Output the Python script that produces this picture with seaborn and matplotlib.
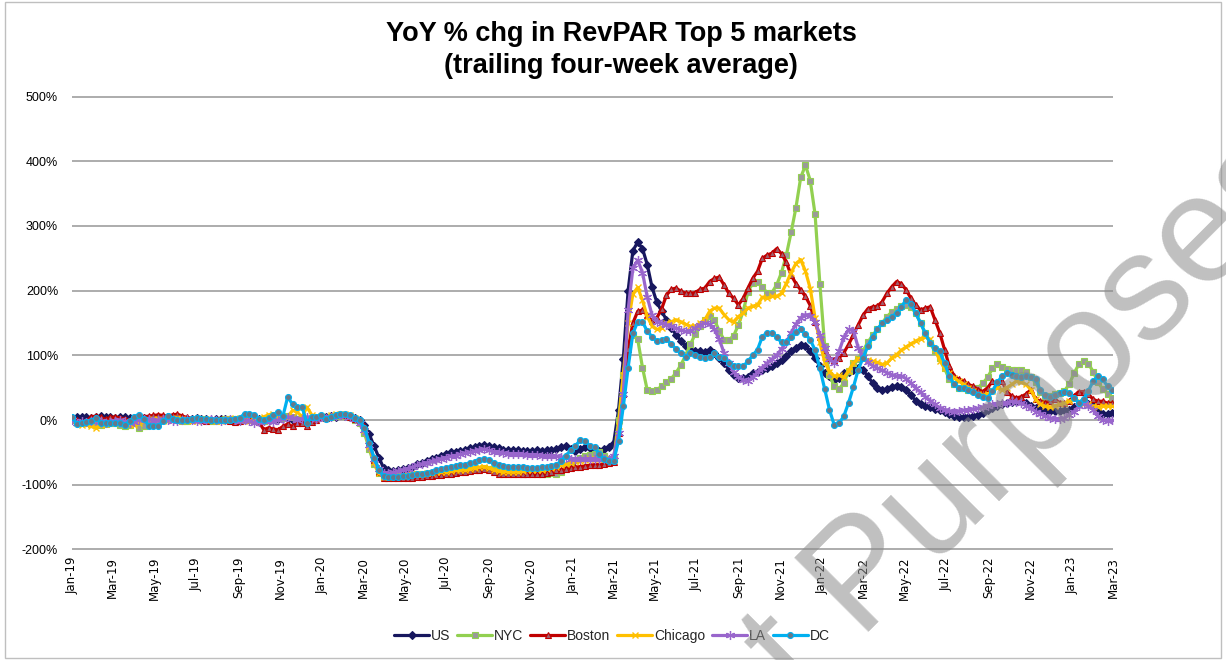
import numpy as np
import pandas as pd
import matplotlib
matplotlib.use("Agg")
import matplotlib.pyplot as plt
import matplotlib.dates as mdates
from matplotlib.lines import Line2D
from matplotlib.ticker import FuncFormatter, MultipleLocator
import seaborn as sns

# ---------------- data (weekly, trailing 4-week avg, YoY % chg) ----------------
weeks = pd.date_range("2019-01-01", periods=218, freq="7D")

us = [
    3, 5, 4, 5, 3, 4, 6, 5, 4, 3, 4, 5, 3, 2, 4, 3, 2, 1, 2, 3, 4, 5, 3, 2, 1, 2,
    3, 2, 1, 0, 1, 2, 1, 0, -1, 0, 1, 2, 3, 2, 0, 1, 2, 1, 3, 2, 0, -1, 1, 2, 3, 2,
    5, 4, 6, 5, 7, 6, 5, 3, 0,
    -8, -22, -40, -58, -74,
    -78, -79, -78, -76, -74, -72, -68, -66, -63, -60,
    -58, -55, -52, -50, -49, -48, -47, -44, -42, -40,
    -38, -40, -42, -44, -46, -47, -47, -47, -48, -48,
    -48, -47, -48, -47, -47, -45, -42, -40, -45, -48,
    -45, -42, -43, -47, -48, -45, -42, -35,
    15, 95, 200, 262, 275, 265, 240, 205, 182, 168,
    155, 142, 132, 122, 114, 109, 107, 107, 105, 109,
    104, 96, 88, 78, 70, 65, 65, 67, 73, 75,
    78, 80, 83, 88, 93,
    99, 106, 112, 116, 114, 106, 96, 83, 73, 68,
    62, 65, 73, 75, 78, 80, 77, 68, 57, 50,
    46, 48, 51, 53, 51, 46, 38, 30, 25, 22, 20, 17, 15, 12, 9, 6, 5,
    4, 5, 6, 8, 11, 15, 19, 22, 24, 26,
    28, 29, 29, 27, 22, 18, 16, 14, 14, 14,
    14, 15, 16, 20, 24, 29, 25, 21, 14, 10,
    9, 11,
]

nyc = [
    0, -3, -5, -4, -6, -5, -8, -6, -4, -5, -8, -10, -8, -5, -12, -10, -6, -4, -2, 0, 1, 2, 0, -2, -1, 0,
    1, 2, 0, -1, -2, 0, 1, 2, 1, 0, 2, 4, 3, 1, -1, 0, 2, 4, 3, 6, 4, 2, 0, -2, 1, 3,
    4, 3, 5, 6, 7, 6, 4, 0, -5,
    -20, -45, -68, -82, -88,
    -88, -88, -87, -86, -86, -85, -84, -84, -83, -82,
    -81, -81, -80, -79, -79, -78, -77, -77, -76, -75,
    -74, -76, -78, -80, -81, -82, -82, -82, -83, -82,
    -82, -82, -83, -84, -82, -83, -80, -74, -68, -62,
    -58, -56, -54, -53, -50, -55, -60, -61,
    0, 70, 118, 132, 125, 81, 46, 45, 47, 52,
    58, 64, 73, 85, 100, 117, 133, 145, 155, 161,
    155, 138, 124, 124, 130, 147, 168, 198, 212, 214,
    205, 197, 197, 209, 228,
    255, 290, 328, 375, 394, 370, 318, 210, 115, 70,
    52, 48, 57, 76, 88, 95, 107, 120, 131, 140,
    150, 160, 167, 172, 176, 178, 175, 165, 150, 134,
    119, 106, 96, 80, 63, 55, 50,
    49, 47, 47, 50, 57, 66, 80, 86, 82, 79,
    77, 78, 78, 74, 66, 58, 44, 35, 37, 40,
    41, 45, 55, 72, 86, 91, 87, 75, 58, 48,
    40, 34,
]

boston = [
    2, 0, -3, -2, 5, 6, 4, 1, 4, 5, 3, 2, 0, 1, 3, 5, 6, 7, 8, 7, 6, 8, 9, 6, 4, 2,
    1, 0, -1, 0, 2, 1, 0, -2, -3, -1, 0, 2, 1, -3, -15, -12, -14, -15, -10, -6, -10, -5, -4, -10, -3, 0,
    5, 3, 6, 8, 9, 7, 5, 2, -2,
    -10, -35, -62, -80, -89,
    -90, -90, -90, -89, -89, -89, -88, -88, -87, -86,
    -85, -85, -84, -83, -82, -81, -80, -79, -78, -77,
    -76, -78, -81, -83, -84, -84, -83, -84, -84, -83,
    -84, -84, -83, -82, -80, -78, -77, -75, -74, -73,
    -72, -71, -70, -69, -69, -68, -66, -65,
    -20, 40, 110, 150, 168, 170, 162, 153, 158, 172,
    193, 202, 204, 199, 196, 196, 197, 202, 204, 214,
    219, 221, 209, 196, 188, 178, 188, 204, 219, 230,
    250, 255, 258, 265, 257,
    244, 224, 211, 201, 191, 177, 152, 128, 109, 96,
    93, 96, 104, 117, 132, 147, 162, 172, 175, 176,
    183, 196, 206, 214, 211, 201, 188, 178, 170, 173,
    175, 155, 135, 109, 83, 68, 63,
    60, 55, 52, 47, 44, 50, 60, 55, 60, 44,
    37, 34, 36, 40, 47, 32, 29, 27, 29, 32,
    27, 26, 29, 37, 44, 44, 40, 32, 29, 29,
    26, 26,
]

chicago = [
    0, -5, -8, -6, -10, -12, -8, -6, -4, -3, -5, -3, -6, -8, -4, -2, 0, 2, 1, -1, 0, 2, 3, 1, 0, -2,
    -1, 1, 2, 0, -2, -1, 0, 2, 3, 1, 0, -2, 0, 2, 5, 8, 10, 4, 3, 5, 15, 12, 5, 20, 8, 5,
    6, 4, 7, 9, 10, 9, 7, 3, -3,
    -15, -40, -65, -82, -88,
    -88, -87, -87, -86, -85, -84, -84, -83, -82, -82,
    -81, -80, -80, -79, -78, -78, -77, -76, -74, -73,
    -72, -74, -77, -79, -80, -80, -81, -80, -79, -78,
    -78, -77, -77, -76, -74, -72, -70, -68, -66, -64,
    -63, -62, -61, -61, -60, -61, -62, -62,
    -10, 70, 150, 195, 205, 185, 160, 145, 140, 142,
    150, 152, 155, 152, 148, 145, 145, 150, 155, 168,
    173, 173, 163, 155, 152, 160, 165, 173, 176, 178,
    190, 188, 191, 191, 196,
    211, 228, 242, 248, 230, 203, 158, 120, 90, 75,
    68, 69, 66, 76, 88, 95, 95, 93, 91, 89,
    86, 88, 96, 101, 108, 113, 118, 122, 126, 129,
    125, 110, 92, 80, 72, 65, 60,
    55, 50, 45, 40, 38, 40, 45, 50, 47, 50,
    55, 60, 58, 55, 47, 32, 24, 21, 20, 22,
    24, 26, 29, 32, 29, 26, 24, 22, 20, 22,
    21, 21,
]

la = [
    0, -4, -2, -3, -1, 0, -2, -4, -3, -1, 0, -2, -5, -3, 0, 2, 1, -1, 0, 1, 0, -2, -1, 0, 1, 0,
    -1, -2, 0, 1, 0, -1, 0, 1, 0, -1, 0, -2, -4, -3, -2, -1, -3, 0, 2, 5, 3, 0, 2, 4, 3, 2,
    4, 3, 5, 6, 7, 6, 5, 2, -5,
    -15, -38, -60, -75, -82,
    -82, -81, -79, -77, -75, -73, -70, -68, -66, -64,
    -62, -60, -58, -56, -55, -53, -51, -50, -48, -46,
    -45, -47, -49, -50, -51, -52, -52, -53, -53, -54,
    -54, -54, -55, -55, -55, -56, -57, -58, -60, -60,
    -61, -61, -60, -60, -60, -61, -60, -55,
    -20, 40, 170, 235, 247, 228, 190, 162, 152, 150,
    147, 145, 142, 139, 137, 137, 142, 147, 150, 148,
    140, 125, 104, 88, 75, 66, 62, 60, 66, 74,
    81, 88, 94, 100, 110,
    120, 135, 148, 158, 163, 161, 152, 132, 111, 95,
    88, 106, 128, 140, 138, 112, 97, 89, 84, 80,
    77, 73, 70, 68, 68, 64, 57, 49, 43, 36,
    30, 24, 19, 16, 14, 13, 14,
    15, 16, 17, 18, 20, 22, 24, 25, 26, 27,
    29, 28, 26, 22, 19, 13, 10, 6, 3, 2,
    2, 3, 8, 13, 21, 26, 22, 16, 6, 0,
    -2, 0,
]

dc = [
    5, -6, -4, -3, -2, 3, -4, -4, -4, -4, -5, -7, -2, 5, 8, 2, -9, -10, -9, -2, 6, 2, 0, 0, 0, 1,
    3, 2, 1, 0, 0, 0, 0, 0, 1, 3, 10, 10, 8, 2, 0, 3, 8, 12, 6, 36, 24, 20, 20, -5, 5, 5,
    7, 2, 5, 8, 10, 10, 7, 3, 0,
    -12, -35, -58, -77, -87,
    -88, -88, -88, -87, -86, -85, -84, -83, -82, -80,
    -78, -76, -74, -72, -71, -70, -69, -67, -65, -62,
    -60, -62, -67, -70, -71, -72, -72, -73, -73, -74,
    -74, -74, -73, -72, -71, -69, -64, -55, -47, -40,
    -31, -32, -40, -42, -53, -61, -63, -63,
    -32, 21, 81, 134, 152, 152, 137, 129, 122, 124,
    126, 117, 110, 103, 98, 104, 101, 98, 96, 98,
    103, 98, 96, 88, 83, 83, 83, 91, 100, 109,
    129, 135, 134, 128, 120,
    121, 129, 136, 140, 133, 124, 108, 80, 48, 16,
    -8, -5, 6, 27, 51, 78, 96, 114, 129, 140,
    150, 155, 160, 165, 175, 186, 180, 165, 150, 134,
    119, 111, 106, 88, 68, 55, 50,
    50, 47, 44, 39, 36, 34, 45, 58, 68, 72,
    70, 68, 67, 68, 67, 63, 46, 38, 36, 38,
    41, 43, 41, 34, 27, 32, 45, 60, 68, 63,
    52, 46,
]

series_names = ["US", "NYC", "Boston", "Chicago", "LA", "DC"]
series_values = [us, nyc, boston, chicago, la, dc]
for n, v in zip(series_names, series_values):
    assert len(v) == len(weeks), (n, len(v))

title_lines = ["YoY % chg in RevPAR Top 5 markets", "(trailing four-week average)"]
watermark = "t Purposes"

# ---------------- styles ----------------
styles = {
    "US":      dict(color="#17175E", marker="D", markersize=4.5, markerfacecolor="#17175E",
                    markeredgecolor="#17175E", markeredgewidth=0.8, linewidth=2.3),
    "NYC":     dict(color="#92D050", marker="s", markersize=3.8, markerfacecolor="#9A9A9A",
                    markeredgecolor="#92D050", markeredgewidth=0.8, linewidth=2.3),
    "Boston":  dict(color="#C00000", marker="^", markersize=4.2, markerfacecolor="#A06070",
                    markeredgecolor="#C00000", markeredgewidth=0.8, linewidth=2.3),
    "Chicago": dict(color="#FFC000", marker="x", markersize=4.5, markerfacecolor="#FFC000",
                    markeredgecolor="#FFC000", markeredgewidth=1.0, linewidth=2.3),
    "LA":      dict(color="#9966CC", marker=(6, 2, 0), markersize=6.5, markerfacecolor="#9966CC",
                    markeredgecolor="#9966CC", markeredgewidth=0.9, linewidth=2.3),
    "DC":      dict(color="#00B0F0", marker="o", markersize=4.3, markerfacecolor="#687888",
                    markeredgecolor="#00B0F0", markeredgewidth=0.8, linewidth=2.3),
}

sns.set_theme(style="white")
plt.rcParams["font.family"] = ["Liberation Sans", "DejaVu Sans"]

W, H = 1226, 660
fig = plt.figure(figsize=(W / 100, H / 100), dpi=100)
ax = fig.add_axes([72 / W, 1 - 550 / H, (1113 - 72) / W, (550 - 96) / H])

for name, vals in zip(series_names, series_values):
    sns.lineplot(x=weeks, y=vals, ax=ax, errorbar=None, label=name, **styles[name])

if ax.get_legend() is not None:
    ax.get_legend().remove()

ax.set_ylim(-201, 501)
ax.set_xlim(pd.Timestamp("2019-01-01"), pd.Timestamp("2023-03-01"))
ax.yaxis.set_major_locator(MultipleLocator(100))
ax.yaxis.set_major_formatter(FuncFormatter(lambda v, p: f"{int(round(v))}%"))
ax.xaxis.set_major_locator(mdates.MonthLocator(bymonth=[1, 3, 5, 7, 9, 11]))
ax.xaxis.set_major_formatter(mdates.DateFormatter("%b-%y"))
ax.grid(axis="y", color="#A6A6A6", linewidth=1.3)
ax.grid(axis="x", visible=False)
ax.set_axisbelow(True)
for s in ax.spines.values():
    s.set_visible(False)
ax.set_xlabel("")
ax.set_ylabel("")
ax.tick_params(axis="y", length=0, pad=10, labelsize=9, labelcolor="#000000")
ax.tick_params(axis="x", length=0, pad=5, labelsize=8.5, labelrotation=90, labelcolor="#000000")
for lab in ax.get_xticklabels():
    lab.set_family(["DejaVu Sans"])

fig.text(621 / W, 1 - 34 / H, title_lines[0], ha="center", va="center",
         fontsize=19.5, fontweight="bold", color="#000000")
fig.text(621 / W, 1 - 66 / H, title_lines[1], ha="center", va="center",
         fontsize=19.5, fontweight="bold", color="#000000")

handles = [Line2D([0], [0], **styles[n]) for n in series_names]
fig.legend(handles, series_names, loc="center", bbox_to_anchor=(612 / W, 1 - 636 / H), ncol=6,
           frameon=False, handlelength=2.5, columnspacing=0.5, handletextpad=0.15,
           prop=dict(family=["Liberation Sans"], size=10))

# chart border
fig.patches.append(plt.Rectangle((5 / W, 2 / H), 1 - 10 / W, 1 - 4 / H, transform=fig.transFigure,
                                 fill=False, edgecolor="#BFBFBF", linewidth=1.0))

# watermark (partly outside the chart, as in the reference)
fig.text(800 / W, 1 - 700 / H, watermark, rotation=45, rotation_mode="anchor",
         ha="left", va="baseline", fontsize=110, color="#8C8C8C", alpha=0.55, zorder=10)

fig.savefig("out.png", dpi=100)
